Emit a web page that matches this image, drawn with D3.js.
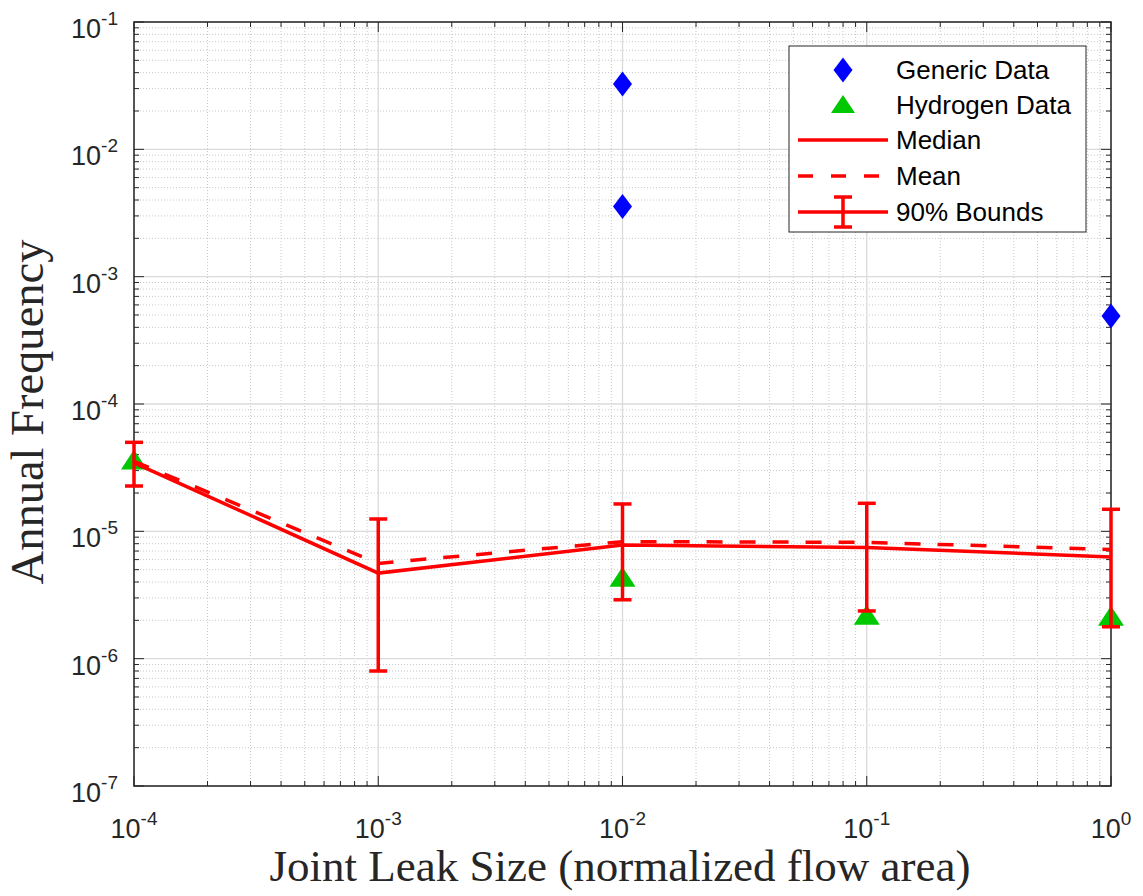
<!DOCTYPE html>
<html><head><meta charset="utf-8">
<script src="https://cdn.jsdelivr.net/npm/d3@7"></script>
<style>body{margin:0;background:#fff;} svg{display:block;}</style>
</head><body>
<svg id="chart" width="1143" height="896"></svg>
<script>
const leakSizes = [1e-4, 1e-3, 1e-2, 1e-1, 1];
const genericX = [1e-2, 1e-2, 1];
const genericY = [0.0326, 0.00355, 4.9e-4];
const hydrogenX = [1e-4, 1e-2, 1e-1, 1];
const hydrogenY = [3.45e-5, 4.15e-6, 2.08e-6, 2.05e-6];
const medianY = [3.45e-5, 4.7e-6, 7.8e-6, 7.45e-6, 6.3e-6];
const meanY = [3.55e-5, 5.6e-6, 8.3e-6, 8.2e-6, 7.2e-6];
const upperY = [5.0e-5, 1.25e-5, 1.64e-5, 1.66e-5, 1.49e-5];
const lowerY = [2.27e-5, 8.0e-7, 2.9e-6, 2.37e-6, 1.78e-6];
const xTickExp = [-4, -3, -2, -1, 0];
const yTickExp = [-7, -6, -5, -4, -3, -2, -1];
const legendLabels = ["Generic Data", "Hydrogen Data", "Median", "Mean", "90% Bounds"];

const svg = d3.select("#chart");
const L = 134, R = 1111, T = 22, B = 786;
const x = d3.scaleLog().domain([1e-4, 1]).range([L, R]);
const y = d3.scaleLog().domain([1e-7, 1e-1]).range([B, T]);
const axisCol = "#262626";
const tickFont = "'Liberation Sans', Arial, sans-serif";
const serif = "'Liberation Serif', 'DejaVu Serif', serif";

const xAll = x.ticks(), yAll = y.ticks();
const isMajor = v => Math.abs(Math.log10(v) - Math.round(Math.log10(v))) < 1e-9;

const g = svg.append("g");
// minor grid
g.selectAll(".gxm").data(xAll.filter(v => !isMajor(v))).join("line")
  .attr("x1", d => x(d)).attr("x2", d => x(d)).attr("y1", T).attr("y2", B)
  .attr("stroke", "#c8c8c8").attr("stroke-width", 1).attr("stroke-dasharray", "1,2");
g.selectAll(".gym").data(yAll.filter(v => !isMajor(v))).join("line")
  .attr("y1", d => y(d)).attr("y2", d => y(d)).attr("x1", L).attr("x2", R)
  .attr("stroke", "#c8c8c8").attr("stroke-width", 1).attr("stroke-dasharray", "1,2");
// major grid
g.selectAll(".gxM").data(xAll.filter(isMajor)).join("line")
  .attr("x1", d => x(d)).attr("x2", d => x(d)).attr("y1", T).attr("y2", B)
  .attr("stroke", "#dadada").attr("stroke-width", 1.3);
g.selectAll(".gyM").data(yAll.filter(isMajor)).join("line")
  .attr("y1", d => y(d)).attr("y2", d => y(d)).attr("x1", L).attr("x2", R)
  .attr("stroke", "#dadada").attr("stroke-width", 1.3);

// axes with inward ticks
function tickLen(v) { return isMajor(v) ? 10 : 5; }
const ax = svg.append("g");
ax.selectAll(".tb").data(xAll).join("line")
  .attr("x1", d => x(d)).attr("x2", d => x(d)).attr("y1", B).attr("y2", d => B - tickLen(d))
  .attr("stroke", axisCol).attr("stroke-width", 1);
ax.selectAll(".tt").data(xAll).join("line")
  .attr("x1", d => x(d)).attr("x2", d => x(d)).attr("y1", T).attr("y2", d => T + tickLen(d))
  .attr("stroke", axisCol).attr("stroke-width", 1);
ax.selectAll(".tl").data(yAll).join("line")
  .attr("y1", d => y(d)).attr("y2", d => y(d)).attr("x1", L).attr("x2", d => L + tickLen(d))
  .attr("stroke", axisCol).attr("stroke-width", 1);
ax.selectAll(".tr").data(yAll).join("line")
  .attr("y1", d => y(d)).attr("y2", d => y(d)).attr("x1", R).attr("x2", d => R - tickLen(d))
  .attr("stroke", axisCol).attr("stroke-width", 1);
ax.append("rect").attr("x", L).attr("y", T).attr("width", R - L).attr("height", B - T)
  .attr("fill", "none").attr("stroke", axisCol).attr("stroke-width", 1.5);

// tick labels
xTickExp.forEach(e => {
  const t = svg.append("text").attr("x", x(Math.pow(10, e))).attr("y", 838)
    .attr("text-anchor", "middle").attr("font-family", tickFont).attr("font-size", 27).attr("fill", axisCol);
  t.append("tspan").text("10");
  t.append("tspan").attr("font-size", 19).attr("dy", -13).text(String(e));
});
yTickExp.forEach(e => {
  const t = svg.append("text").attr("x", 118).attr("y", y(Math.pow(10, e)) + 16)
    .attr("text-anchor", "end").attr("font-family", tickFont).attr("font-size", 27).attr("fill", axisCol);
  t.append("tspan").text("10");
  t.append("tspan").attr("font-size", 19).attr("dy", -13).text(String(e));
});

// axis titles
const xl = svg.append("text").attr("x", 620).attr("y", 881).attr("text-anchor", "middle")
  .attr("font-family", serif).attr("font-size", 36).attr("fill", "#262626")
  .text("Joint Leak Size (normalized flow area)");
const xw = xl.node().getComputedTextLength();
xl.attr("font-size", 36 * 701 / xw);
const yl = svg.append("text").attr("transform", "translate(43,412) rotate(-90)").attr("text-anchor", "middle")
  .attr("font-family", serif).attr("font-size", 36).attr("fill", "#262626")
  .text("Annual Frequency");
const yw = yl.node().getComputedTextLength();
yl.attr("font-size", 36 * 345 / yw);

// data
const plot = svg.append("g");
const diamond = (cx, cy, w, h) => `M${cx},${cy - h / 2}L${cx + w / 2},${cy}L${cx},${cy + h / 2}L${cx - w / 2},${cy}Z`;
const tri = (cx, cy, w, h) => `M${cx},${cy - h * 2 / 3}L${cx + w / 2},${cy + h / 3}L${cx - w / 2},${cy + h / 3}Z`;
plot.selectAll(".hyd").data(hydrogenX.map((v, i) => [v, hydrogenY[i]])).join("path")
  .attr("d", d => tri(x(d[0]), y(d[1]), 26, 20)).attr("fill", "#00c800");
plot.selectAll(".gen").data(genericX.map((v, i) => [v, genericY[i]])).join("path")
  .attr("d", d => diamond(x(d[0]), y(d[1]), 19, 25)).attr("fill", "#0000ff");

const lineGen = d3.line().x(d => x(d[0])).y(d => y(d[1]));
plot.append("path").datum(leakSizes.map((v, i) => [v, meanY[i]])).attr("d", lineGen)
  .attr("fill", "none").attr("stroke", "#ff0000").attr("stroke-width", 3.5).attr("stroke-dasharray", "16,17");
plot.append("path").datum(leakSizes.map((v, i) => [v, medianY[i]])).attr("d", lineGen)
  .attr("fill", "none").attr("stroke", "#ff0000").attr("stroke-width", 3.5);
leakSizes.forEach((v, i) => {
  const cx = x(v);
  plot.append("line").attr("x1", cx).attr("x2", cx).attr("y1", y(upperY[i])).attr("y2", y(lowerY[i]))
    .attr("stroke", "#ff0000").attr("stroke-width", 3.5);
  [upperY[i], lowerY[i]].forEach(b => {
    plot.append("line").attr("x1", cx - 9).attr("x2", cx + 9).attr("y1", y(b)).attr("y2", y(b))
      .attr("stroke", "#ff0000").attr("stroke-width", 3.5);
  });
});

// legend
const lg = svg.append("g");
lg.append("rect").attr("x", 789).attr("y", 46).attr("width", 297).attr("height", 186)
  .attr("fill", "#fff").attr("stroke", axisCol).attr("stroke-width", 1);
const ly = [70, 105, 140, 176, 212];
const lx1 = 798, lx2 = 888, lmx = 843;
lg.append("path").attr("d", diamond(lmx, ly[0], 19, 25)).attr("fill", "#0000ff");
lg.append("path").attr("d", tri(lmx, ly[1] + 2, 24, 18)).attr("fill", "#00c800");
lg.append("line").attr("x1", lx1).attr("x2", lx2).attr("y1", ly[2]).attr("y2", ly[2]).attr("stroke", "#ff0000").attr("stroke-width", 3.5);
lg.append("line").attr("x1", lx1).attr("x2", lx2).attr("y1", ly[3]).attr("y2", ly[3]).attr("stroke", "#ff0000").attr("stroke-width", 3.5).attr("stroke-dasharray", "15,18");
lg.append("line").attr("x1", lx1).attr("x2", lx2).attr("y1", ly[4]).attr("y2", ly[4]).attr("stroke", "#ff0000").attr("stroke-width", 3.5);
lg.append("line").attr("x1", lmx).attr("x2", lmx).attr("y1", ly[4] - 15).attr("y2", ly[4] + 15).attr("stroke", "#ff0000").attr("stroke-width", 3.5);
[ly[4] - 15, ly[4] + 15].forEach(b => lg.append("line").attr("x1", lmx - 9).attr("x2", lmx + 9).attr("y1", b).attr("y2", b).attr("stroke", "#ff0000").attr("stroke-width", 3.5));
legendLabels.forEach((s, i) => {
  lg.append("text").attr("x", 896).attr("y", ly[i] + 9).attr("font-family", tickFont).attr("font-size", 26)
    .attr("fill", "#000").text(s);
});
</script>
</body></html>
